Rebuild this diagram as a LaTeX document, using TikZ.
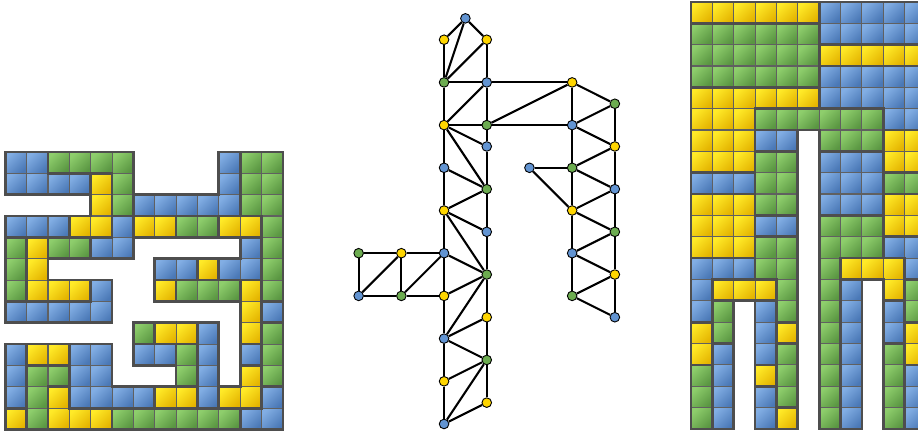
\documentclass[tikz,border=0pt]{standalone}
\usepackage{tikz}

\definecolor{yhi}{RGB}{255,234,40}
\definecolor{ylo}{RGB}{228,180,0}
\definecolor{bhi}{RGB}{130,174,228}
\definecolor{blo}{RGB}{74,120,182}
\definecolor{ghi}{RGB}{142,206,108}
\definecolor{glo}{RGB}{90,150,66}
\definecolor{nodeY}{RGB}{255,214,0}
\definecolor{nodeB}{RGB}{98,148,210}
\definecolor{nodeG}{RGB}{108,172,80}
\definecolor{seam}{RGB}{78,78,78}

\tikzset{
 tileY/.style={top color=yhi,bottom color=ylo,shading angle=45,draw=seam!90,line width=.75pt},
 tileB/.style={top color=bhi,bottom color=blo,shading angle=45,draw=seam!90,line width=.75pt},
 tileG/.style={top color=ghi,bottom color=glo,shading angle=45,draw=seam!90,line width=.75pt},
 seamline/.style={draw=seam,line width=1.8pt,line cap=rect},
}

% colour of cell (#2,#3) in grid #1, E when there is none
\newcommand\tileof[3]{\ifcsname t#1@#2@#3\endcsname\csname t#1@#2@#3\endcsname\else E\fi}

% grid #1, rows #2
\newcommand\tilegrid[2]{%
 \foreach \row [count=\j from 0] in {#2}{
  \foreach \c [count=\i from 0] in \row {
   \expandafter\xdef\csname t#1@\i@\j\endcsname{\c}
   \if\c E\else\path[tile\c] (\i,-\j) rectangle ++(1,-1);\fi
  }
 }
 % thick lines where the colour changes
 \foreach \row [count=\j from 0] in {#2}{
  \foreach \c [count=\i from 0] in \row {
   \if\c E\else
    \edef\nb{\tileof{#1}{\the\numexpr\i+1\relax}{\j}}
    \if\c\nb\else\draw[seamline] (\i+1,-\j) -- ++(0,-1);\fi
    \edef\nb{\tileof{#1}{\the\numexpr\i-1\relax}{\j}}
    \if\c\nb\else\draw[seamline] (\i,-\j) -- ++(0,-1);\fi
    \edef\nb{\tileof{#1}{\i}{\the\numexpr\j+1\relax}}
    \if\c\nb\else\draw[seamline] (\i,-\j-1) -- ++(1,0);\fi
    \edef\nb{\tileof{#1}{\i}{\the\numexpr\j-1\relax}}
    \if\c\nb\else\draw[seamline] (\i,-\j) -- ++(1,0);\fi
   \fi
  }
 }
}

\begin{document}
\begin{tikzpicture}[x=0.5cm,y=0.5cm]
\useasboundingbox (0,0) rectangle (43,-20.28);

% left grid
\begin{scope}[shift={(0.25,-7.12)}]
\tilegrid{L}{
 {B,B,G,G,G,G,E,E,E,E,B,G,G},
 {B,B,B,B,Y,G,E,E,E,E,B,G,G},
 {E,E,E,E,Y,G,B,B,B,B,B,G,G},
 {B,B,B,Y,Y,B,Y,Y,G,G,Y,Y,G},
 {G,Y,G,G,B,B,E,E,E,E,E,B,G},
 {G,Y,E,E,E,E,E,B,B,Y,B,B,G},
 {G,Y,Y,Y,B,E,E,Y,G,G,G,Y,G},
 {B,B,B,B,B,E,E,E,E,E,E,Y,B},
 {E,E,E,E,E,E,G,Y,Y,B,E,Y,G},
 {B,Y,Y,B,B,E,B,B,G,B,E,B,G},
 {B,G,G,B,B,E,E,E,G,B,E,Y,G},
 {B,G,Y,B,B,B,B,Y,Y,B,Y,Y,B},
 {Y,G,Y,Y,Y,G,G,G,G,G,G,B,B}}
\end{scope}

% right grid
\begin{scope}[shift={(32.37,-0.09)}]
\tilegrid{R}{
 {Y,Y,Y,Y,Y,Y,B,B,B,B,B},
 {G,G,G,G,G,G,B,B,B,B,B},
 {G,G,G,G,G,G,Y,Y,Y,Y,Y},
 {G,G,G,G,G,G,B,B,B,B,B},
 {Y,Y,Y,Y,Y,Y,B,B,B,B,B},
 {Y,Y,Y,G,G,G,G,G,G,B,B},
 {Y,Y,Y,B,B,E,G,G,G,Y,Y},
 {Y,Y,Y,G,G,E,B,B,B,Y,Y},
 {B,B,B,G,G,E,B,B,B,G,G},
 {Y,Y,Y,G,G,E,B,B,B,Y,Y},
 {Y,Y,Y,B,B,E,G,G,G,Y,Y},
 {Y,Y,Y,G,G,E,G,G,G,B,B},
 {B,B,B,G,G,E,G,Y,Y,Y,B},
 {B,Y,Y,Y,G,E,G,B,E,Y,G},
 {B,G,E,B,G,E,G,B,E,B,G},
 {Y,G,E,B,Y,E,G,B,E,B,Y},
 {Y,B,E,B,G,E,G,B,E,G,Y},
 {G,B,E,Y,G,E,G,B,E,G,B},
 {G,B,E,B,G,E,G,B,E,G,B},
 {G,B,E,B,Y,E,G,B,E,G,B}}
\end{scope}

% graph
\begin{scope}[shift={(16.8,-0.86)}]
\tikzstyle{every node}=[draw,circle,inner sep=0pt,minimum size=6.4pt,line width=.6pt]
\path
 (5,0)    node[fill=nodeB] (top) {}
 (4,-1)   node[fill=nodeY] (c1) {}
 (6,-1)   node[fill=nodeY] (d1) {}
 (4,-3)   node[fill=nodeG] (c3) {}
 (6,-3)   node[fill=nodeB] (d3) {}
 (10,-3)  node[fill=nodeY] (f3) {}
 (12,-4)  node[fill=nodeG] (g4) {}
 (4,-5)   node[fill=nodeY] (c5) {}
 (6,-5)   node[fill=nodeG] (d5) {}
 (10,-5)  node[fill=nodeB] (f5) {}
 (6,-6)   node[fill=nodeB] (d6) {}
 (12,-6)  node[fill=nodeY] (g6) {}
 (4,-7)   node[fill=nodeB] (c7) {}
 (8,-7)   node[fill=nodeB] (e7) {}
 (10,-7)  node[fill=nodeG] (f7) {}
 (6,-8)   node[fill=nodeG] (d8) {}
 (12,-8)  node[fill=nodeB] (g8) {}
 (4,-9)   node[fill=nodeY] (c9) {}
 (10,-9)  node[fill=nodeY] (f9) {}
 (6,-10)  node[fill=nodeB] (d10) {}
 (12,-10) node[fill=nodeG] (g10) {}
 (0,-11)  node[fill=nodeG] (a11) {}
 (2,-11)  node[fill=nodeY] (b11) {}
 (4,-11)  node[fill=nodeB] (c11) {}
 (10,-11) node[fill=nodeB] (f11) {}
 (6,-12)  node[fill=nodeG] (d12) {}
 (12,-12) node[fill=nodeY] (g12) {}
 (0,-13)  node[fill=nodeB] (a13) {}
 (2,-13)  node[fill=nodeG] (b13) {}
 (4,-13)  node[fill=nodeY] (c13) {}
 (10,-13) node[fill=nodeG] (f13) {}
 (6,-14)  node[fill=nodeY] (d14) {}
 (12,-14) node[fill=nodeB] (g14) {}
 (4,-15)  node[fill=nodeB] (c15) {}
 (6,-16)  node[fill=nodeG] (d16) {}
 (4,-17)  node[fill=nodeY] (c17) {}
 (6,-18)  node[fill=nodeY] (d18) {}
 (4,-19)  node[fill=nodeB] (c19) {}
 ;
\path[draw,line width=1.4pt]
(top) edge (c1) (top) edge (d1) (top) edge (c3)
(c1) edge (c3) (d1) edge (c3) (d1) edge (d3)
(c3) edge (d3) (d3) edge (f3) (c3) edge (c5) (d3) edge (c5) (d3) edge (d5)
(c5) edge (d5) (d5) edge (f5) (f3) edge (d5)
(f3) edge (g4) (f3) edge (f5) (g4) edge (f5) (g4) edge (g6)
(f5) edge (g6) (f5) edge (f7) (g6) edge (f7) (g6) edge (g8)
(f7) edge (g8) (f7) edge (f9) (e7) edge (f7) (e7) edge (f9)
(g8) edge (f9) (g8) edge (g10)
(c5) edge (d6) (c5) edge (d8) (c5) edge (c7) (d5) edge (d6) (d6) edge (d8)
(c7) edge (d8) (c7) edge (c9) (d8) edge (c9) (d8) edge (d10)
(c9) edge (d10) (c9) edge (d12) (c9) edge (c11) (d10) edge (d12)
(a11) edge (b11) (b11) edge (c11) (a13) edge (b13) (b13) edge (c13)
(a11) edge (a13) (b11) edge (b13) (a13) edge (b11) (b13) edge (c11)
(c11) edge (d12) (c11) edge (c13) (c13) edge (d12) (d12) edge (c15)
(d12) edge (d14) (c13) edge (c15)
(c15) edge (d14) (c15) edge (d16) (c15) edge (c17) (d14) edge (d16)
(d16) edge (c17) (d16) edge (c19) (d16) edge (d18) (c17) edge (c19) (c19) edge (d18)
(f9) edge (g10) (f9) edge (f11) (g10) edge (f11) (g10) edge (g12)
(f11) edge (g12) (f11) edge (f13) (g12) edge (f13) (g12) edge (g14) (f13) edge (g14)
;
\end{scope}
\end{tikzpicture}
\end{document}
